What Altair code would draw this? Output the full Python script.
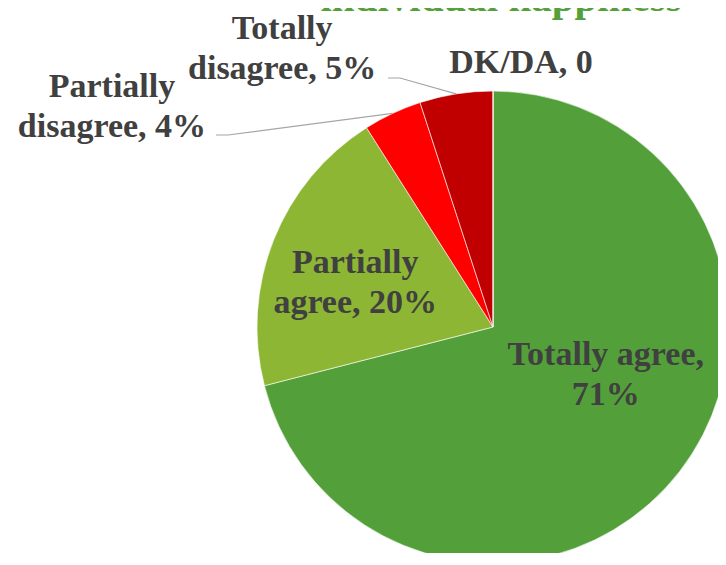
import math
import altair as alt
import pandas as pd

# ---- data ----
categories = ["Totally agree", "Partially agree", "Partially disagree", "Totally disagree", "DK/DA"]
values = [71, 20, 4, 5, 0]
label_texts = ["Totally agree,\n71%", "Partially\nagree, 20%", "Partially\ndisagree, 4%",
               "Totally\ndisagree, 5%", "DK/DA, 0"]
colors = ["#53A03A", "#8DB634", "#FF0000", "#C00000", "#7F7F7F"]
title_text = "individual happiness"

# ---- layout ----
W, H = 710, 545
CX, CY, R = 485, 319, 236
# label anchor (first-line baseline) placement: angle (deg, clockwise from top), radius px
label_place = {
    "Totally agree": (108.6, 119),
    "Partially agree": (291.4, 148),
    "Partially disagree": (301.1, 445),
    "Totally disagree": (323.8, 357),
    "DK/DA": (6.3, 256),
}
# leader line elbows (start, bend) in px for outside labels
leader_elbows = {
    "Totally disagree": [(380, 70), (392, 70)],
    "Partially disagree": [(208, 127), (220, 127)],
}

df = pd.DataFrame({"category": categories, "value": values, "idx": list(range(len(values)))})

lab = pd.DataFrame({
    "category": categories,
    "label": label_texts,
    "theta": [math.radians(label_place[c][0]) for c in categories],
    "r": [label_place[c][1] for c in categories],
})

# leader lines: end at the mid-angle of the slice on the rim
total = sum(values)
cum = 0
mids = {}
for c, v in zip(categories, values):
    mids[c] = (cum + v / 2) / total * 2 * math.pi
    cum += v
rows = []
for c, pts in leader_elbows.items():
    a = mids[c]
    end = (CX + R * math.sin(a), CY - R * math.cos(a))
    for k, (px, py) in enumerate(pts + [end]):
        rows.append({"category": c, "k": k, "px": px, "py": py})
lead = pd.DataFrame(rows)

pie = alt.Chart(df).mark_arc(outerRadius=R, stroke="white", strokeWidth=0.6).encode(
    theta=alt.Theta("value:Q", stack=True),
    color=alt.Color("category:N", scale=alt.Scale(domain=categories, range=colors), legend=None),
    order=alt.Order("idx:Q"),
    x=alt.value(CX),
    y=alt.value(CY),
)

labels = alt.Chart(lab).mark_text(
    font="Liberation Serif", fontWeight="bold", fontSize=34, color="#404040",
    align="center", baseline="alphabetic", lineBreak="\n", lineHeight=40,
).encode(
    theta=alt.Theta("theta:Q", scale=None, stack=False),
    radius=alt.Radius("r:Q", scale=None),
    text="label:N",
    x=alt.value(CX),
    y=alt.value(CY),
)

leaders = alt.Chart(lead).mark_line(color="#A6A6A6", strokeWidth=1.2).encode(
    x=alt.X("px:Q", scale=None, axis=None),
    y=alt.Y("py:Q", scale=None, axis=None),
    detail="category:N",
    order="k:Q",
)

title = alt.Chart(pd.DataFrame({"t": [title_text]})).mark_text(
    font="Liberation Serif", fontWeight="bold", fontSize=41, color="#56A03B",
    align="center", baseline="alphabetic",
).encode(text="t:N", x=alt.value(CX + 8), y=alt.value(3))

chart = alt.layer(pie, leaders, labels, title).resolve_scale(
    theta="independent", radius="independent"
).properties(
    width=W, height=H, padding=0, autosize=alt.AutoSizeParams(type="none"),
).configure_view(stroke=None)

chart.save("out.html", embed_options={"renderer": "svg", "actions": False})
